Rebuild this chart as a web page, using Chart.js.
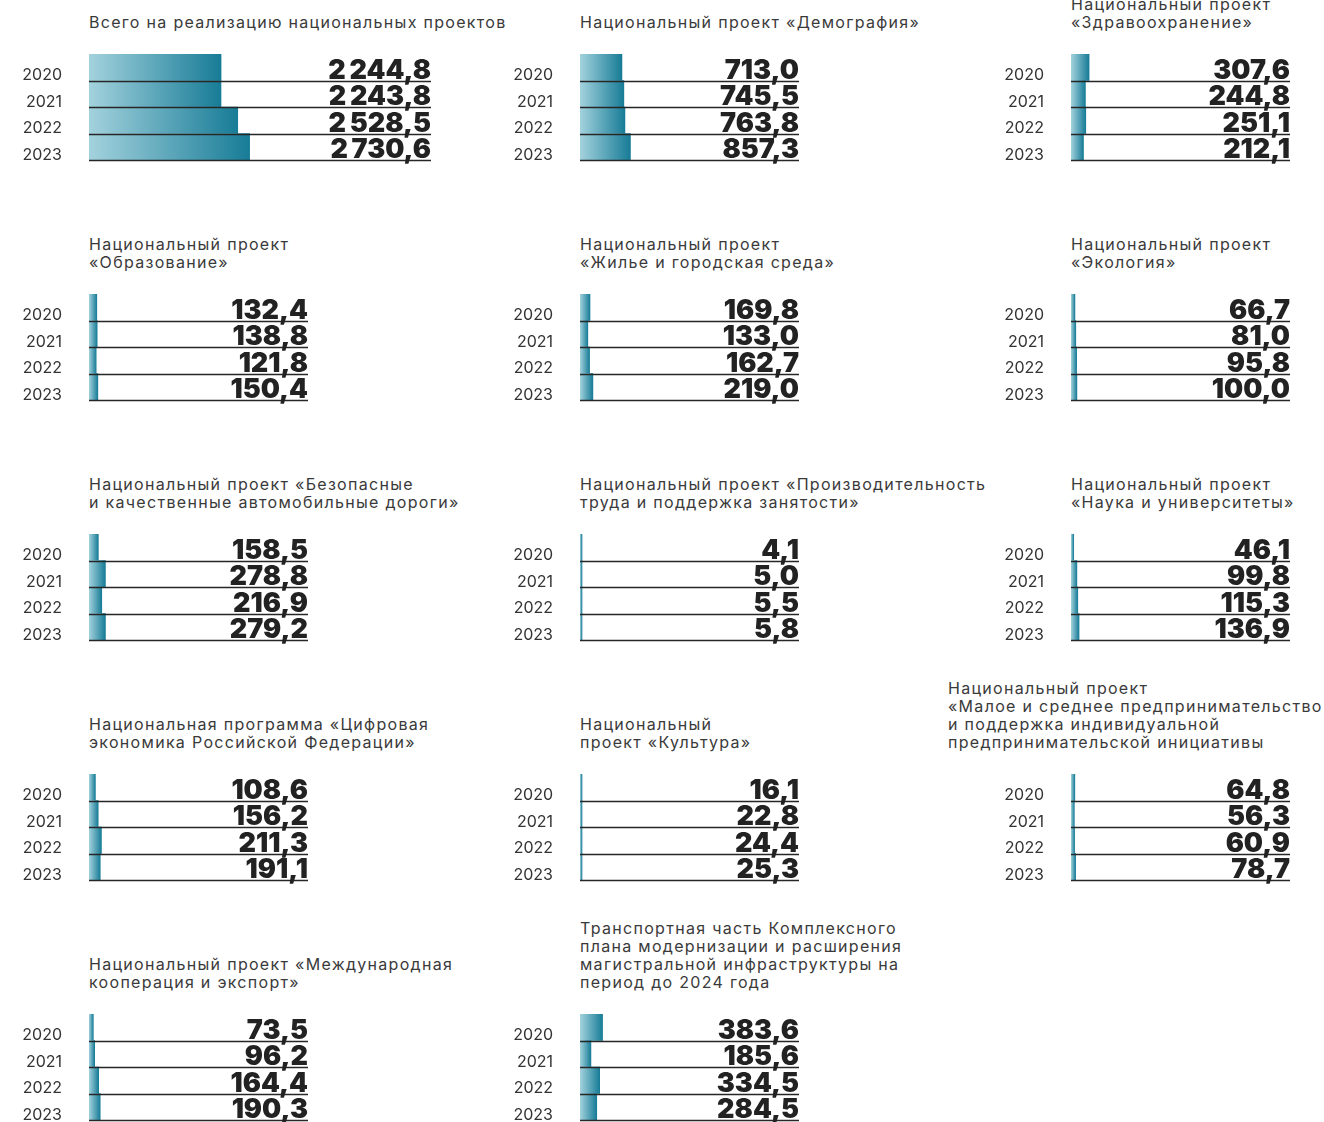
<!DOCTYPE html>
<html>
<head>
<meta charset="utf-8">
<script src="https://cdn.jsdelivr.net/npm/chart.js@4.4.1/dist/chart.umd.min.js"></script>
<style>
  html, body { margin: 0; padding: 0; background: #fff; }
  body { width: 1324px; height: 1122px; position: relative; overflow: hidden; }
  .title {
    position: absolute;
    font-family: Inter, "Noto Sans", sans-serif;
    font-size: 16px;
    line-height: 18px;
    letter-spacing: 1.3px;
    color: #3a3a3a;
    white-space: nowrap;
  }
  .panel { position: absolute; }
</style>
</head>
<body>
<script>
'use strict';

// years on the y axis of every panel
var years = ['2020', '2021', '2022', '2023'];

// values, bn roubles
var total = [2244.8, 2243.8, 2528.5, 2730.6];
var demography = [713.0, 745.5, 763.8, 857.3];
var health = [307.6, 244.8, 251.1, 212.1];
var education = [132.4, 138.8, 121.8, 150.4];
var housing = [169.8, 133.0, 162.7, 219.0];
var ecology = [66.7, 81.0, 95.8, 100.0];
var roads = [158.5, 278.8, 216.9, 279.2];
var labour = [4.1, 5.0, 5.5, 5.8];
var science = [46.1, 99.8, 115.3, 136.9];
var digital = [108.6, 156.2, 211.3, 191.1];
var culture = [16.1, 22.8, 24.4, 25.3];
var smallBusiness = [64.8, 56.3, 60.9, 78.7];
var exportCoop = [73.5, 96.2, 164.4, 190.3];
var transport = [383.6, 185.6, 334.5, 284.5];

var titles = [
  ['Всего на реализацию национальных проектов'],
  ['Национальный проект «Демография»'],
  ['Национальный проект', '«Здравоохранение»'],
  ['Национальный проект', '«Образование»'],
  ['Национальный проект', '«Жилье и городская среда»'],
  ['Национальный проект', '«Экология»'],
  ['Национальный проект «Безопасные', 'и качественные автомобильные дороги»'],
  ['Национальный проект «Производительность', 'труда и поддержка занятости»'],
  ['Национальный проект', '«Наука и университеты»'],
  ['Национальная программа «Цифровая', 'экономика Российской Федерации»'],
  ['Национальный', 'проект «Культура»'],
  ['Национальный проект', '«Малое и среднее предпринимательство', 'и поддержка индивидуальной', 'предпринимательской инициативы'],
  ['Национальный проект «Международная', 'кооперация и экспорт»'],
  ['Транспортная часть Комплексного', 'плана модернизации и расширения', 'магистральной инфраструктуры на', 'период до 2024 года']
];

var series = [total, demography, health, education, housing, ecology, roads,
  labour, science, digital, culture, smallBusiness, exportCoop, transport];

// layout
var colX = [89, 580, 1071];
var rowStep = 240;
var plotTop = 54;
var plotH = 106;
var axisW = 89;
var padTop = 6, padBottom = 10;
var unitsPerPx = 17;

var fmt = function (v) {
  var s = v.toFixed(1).split('.');
  var intPart = s[0].replace(/\B(?=(\d{3})+(?!\d))/g, '\u2009');
  return intPart + ',' + s[1];
};

var barGradient = function (c) {
  var chart = c.chart;
  if (!chart.chartArea) return '#5aa6b8';
  var x0 = chart.scales.x.getPixelForValue(0);
  var x1 = Math.max(chart.scales.x.getPixelForValue(c.raw), x0 + 2);
  var g = chart.ctx.createLinearGradient(x0, 0, x1, 0);
  g.addColorStop(0, '#a3d2dd');
  g.addColorStop(1, '#187c97');
  return g;
};

var valueLines = {
  id: 'valueLines',
  afterDatasetsDraw: function (chart) {
    var ctx = chart.ctx;
    var area = chart.chartArea;
    var meta = chart.getDatasetMeta(0);
    var data = chart.data.datasets[0].data;
    ctx.save();
    meta.data.forEach(function (bar, i) {
      var bottom = Math.round(bar.y + bar.height / 2) + 0.5;
      ctx.strokeStyle = '#262626';
      ctx.lineWidth = 1.6;
      ctx.beginPath();
      ctx.moveTo(area.left, bottom);
      ctx.lineTo(area.right, bottom);
      ctx.stroke();
      ctx.fillStyle = '#222';
      ctx.font = '900 27px Inter, "Noto Sans", sans-serif';
      ctx.textAlign = 'right';
      ctx.textBaseline = 'alphabetic';
      ctx.fillText(fmt(data[i]), area.right, bottom - 3);
    });
    ctx.restore();
  }
};

series.forEach(function (values, i) {
  var row = Math.floor(i / 3);
  var col = i % 3;
  var plotW = i === 0 ? 342 : 219;
  var left = colX[col];
  var top = row * rowStep;

  // title
  var t = document.createElement('div');
  t.className = 'title';
  t.innerHTML = titles[i].join('<br>');
  t.style.left = (i === 11 ? 948 : left) + 'px';
  t.style.top = (top + 31 - 18 * titles[i].length) + 'px';
  document.body.appendChild(t);

  // chart
  var box = document.createElement('div');
  box.className = 'panel';
  box.style.left = (left - axisW) + 'px';
  box.style.top = (top + plotTop - padTop) + 'px';
  box.style.width = (axisW + plotW + 2) + 'px';
  box.style.height = (padTop + plotH + padBottom) + 'px';
  var cv = document.createElement('canvas');
  box.appendChild(cv);
  document.body.appendChild(box);

  new Chart(cv.getContext('2d'), {
    type: 'bar',
    data: {
      labels: years,
      datasets: [{
        data: values,
        backgroundColor: barGradient,
        borderWidth: 0,
        barPercentage: 1,
        categoryPercentage: 1,
        minBarLength: 2
      }]
    },
    options: {
      indexAxis: 'y',
      responsive: true,
      maintainAspectRatio: false,
      animation: false,
      layout: { padding: { top: padTop, bottom: padBottom, right: 2, left: 0 } },
      plugins: { legend: { display: false }, tooltip: { enabled: false } },
      scales: {
        x: {
          display: false,
          min: 0,
          max: plotW * unitsPerPx
        },
        y: {
          afterFit: function (s) {
            s.width = axisW;
            // tick padding would otherwise also shrink the plot vertically
            s.paddingTop = 0;
            s.paddingBottom = 0;
          },
          grid: { display: false, drawTicks: false },
          border: { display: false },
          ticks: {
            padding: 27,
            labelOffset: 8,
            color: '#333',
            font: { family: 'Inter, "Noto Sans", sans-serif', size: 16 }
          }
        }
      }
    },
    plugins: [valueLines]
  });
});
</script>
</body>
</html>
